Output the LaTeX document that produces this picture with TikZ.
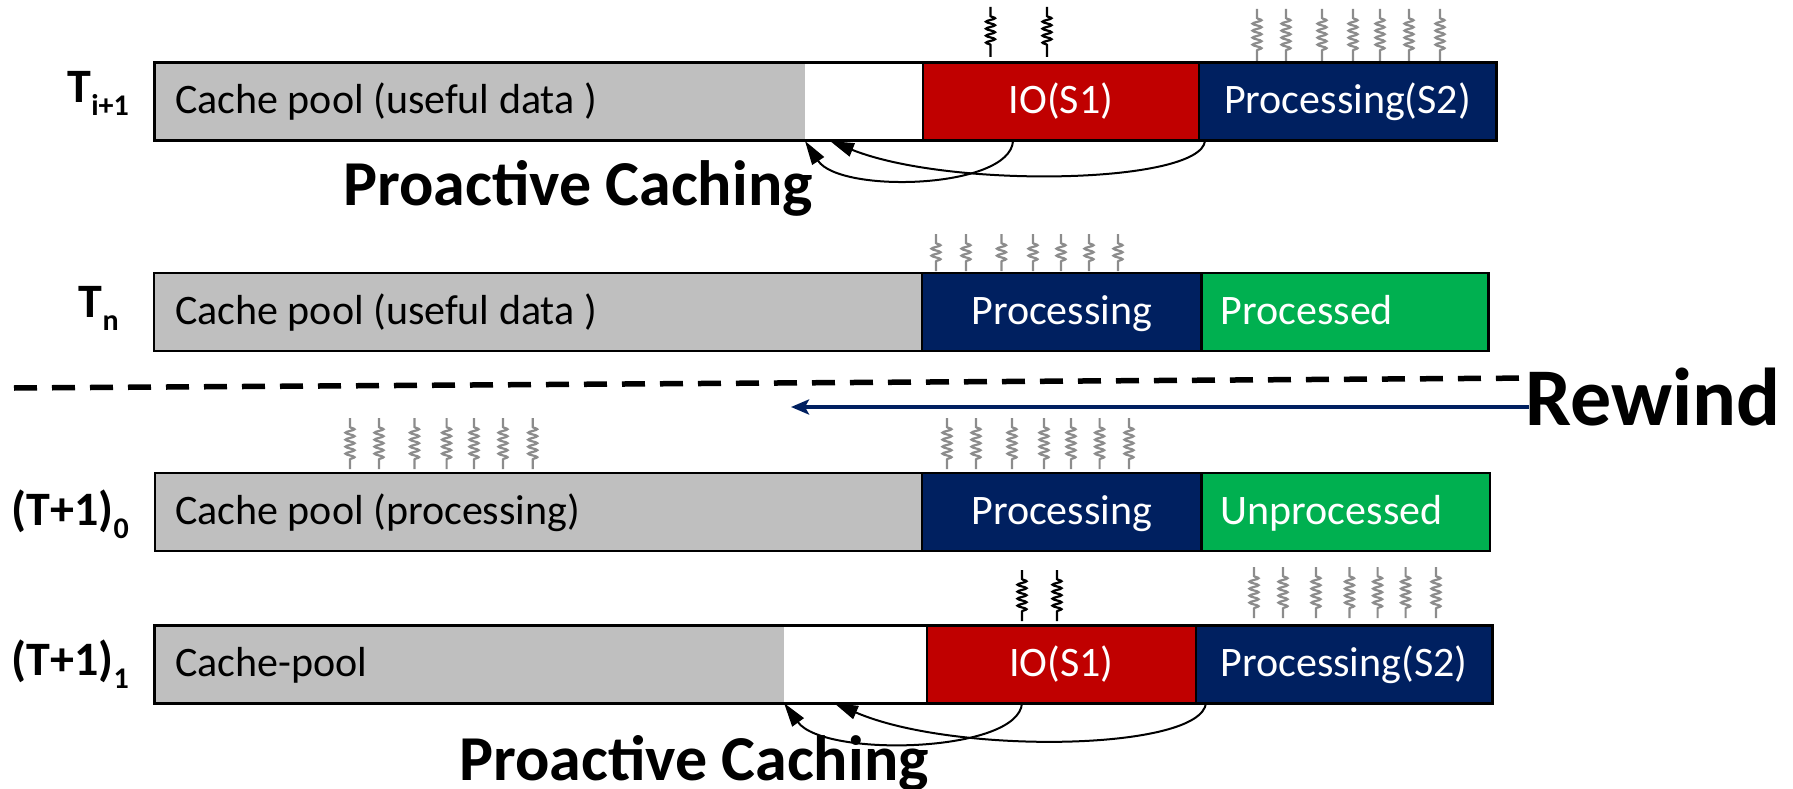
\documentclass[tikz,border=0pt]{standalone}
\usepackage{fontspec}
\setmainfont{Carlito}
\usetikzlibrary{arrows.meta,decorations.pathmorphing,calc}

\definecolor{poolgray}{HTML}{BFBFBF}
\definecolor{iored}{HTML}{C00000}
\definecolor{procnavy}{HTML}{002060}
\definecolor{donegreen}{HTML}{00B050}
\definecolor{springgray}{HTML}{8C8C8C}

% subscript of a row label
\newcommand\rowsub[1]{\raisebox{-13pt}{\fontsize{30}{32}\selectfont #1}}

\begin{document}
\begin{tikzpicture}[x=1pt,y=-1pt,
  cell/.style={rectangle, inner sep=0pt, outer sep=0pt, anchor=west, minimum height=78pt},
  ruled/.style={cell, draw=black, line width=2.5pt},
  frame/.style={draw=black, line width=3pt},
  intext/.style={inner sep=0pt, font=\fontsize{42}{48}\selectfont},
  wtext/.style={intext, text=white},
  rowlabel/.style={inner sep=0pt, anchor=base east, font=\fontsize{48}{52}\selectfont\bfseries},
  caption/.style={inner sep=0pt, anchor=base west, font=\fontsize{64}{70}\selectfont\bfseries},
  spring/.style={line width=2.2pt, decorate,
    decoration={snake, amplitude=4.5pt, segment length=7pt, pre length=9pt, post length=9pt}},
  fetch/.style={line width=2pt, -{Triangle[length=24pt,width=14pt]}},
  rewindarrow/.style={draw=procnavy, line width=4pt, -{Stealth[length=18pt,width=15pt,inset=4pt]}},
]
\useasboundingbox (0,0) rectangle (1793,789);

% ---------- row T_{i+1} ----------
\node[cell, fill=poolgray, minimum width=651pt] (a-pool) at (154,102) {};
\node[cell, fill=white, minimum width=118pt] (a-free) at (805,102) {};
\node[ruled, fill=iored, minimum width=276pt] (a-io) at (923,102) {};
\node[ruled, fill=procnavy, minimum width=297pt] (a-proc) at (1199,102) {};
\draw[frame] (a-pool.north west) rectangle (a-proc.south east);
\node[intext, anchor=base west] (a-pool-t) at ($(a-pool.west)+(21,12)$) {Cache pool (useful data )};
\node[wtext, anchor=base] (a-io-t) at ($(a-io.center)+(0,12)$) {IO(S1)};
\node[wtext, anchor=base] (a-proc-t) at ($(a-proc.center)+(0,12)$) {Processing(S2)};
\node[rowlabel] (a-lab) at (129,103) {T\rowsub{i+1}};

\foreach \x in {990.5,1047} \draw[spring, black] (\x,7) -- (\x,57);
\foreach \x in {1257,1286,1322,1353,1380,1409,1440} \draw[spring, springgray] (\x,9) -- (\x,61);

\draw[fetch] ($(a-io.south west)+(90,0)$) .. controls +(-3,48) and +(35,53) .. (a-free.south west);
\draw[fetch] ($(a-proc.south west)+(6,0)$) .. controls +(-5,43) and +(120,48) .. ($(a-free.south west)+(25,0)$);
\node[caption] (a-cap) at (343,205) {Proactive Caching};

% ---------- row T_n ----------
\node[ruled, fill=poolgray, minimum width=768pt] (b-pool) at (154,312) {};
\node[ruled, fill=procnavy, minimum width=279.5pt] (b-proc) at (922,312) {};
\node[ruled, fill=donegreen, minimum width=287pt] (b-done) at (1201.5,312) {};
\node[intext, anchor=base west] (b-pool-t) at ($(b-pool.west)+(21,12)$) {Cache pool (useful data )};
\node[wtext, anchor=base] (b-proc-t) at ($(b-proc.center)+(0,12)$) {Processing};
\node[wtext, anchor=base west] (b-done-t) at ($(b-done.west)+(19,12)$) {Processed};
\node[rowlabel] (b-lab) at (119,317) {T\rowsub{n}};

\foreach \x in {936,966,1001.5,1033,1061,1089,1118} \draw[spring, springgray] (\x,234) -- (\x,271);

% ---------- rewind marker ----------
\draw[line width=5.5pt, dash pattern=on 23pt off 15pt] (14,388) -- (1540,378);
\coordinate (rw-from) at (1529,407);
\coordinate (rw-to) at (791,407);
\draw[rewindarrow] (rw-from) -- (rw-to);
\node[caption, font=\fontsize{82}{88}\selectfont\bfseries] (rewind) at (1525,425) {Rewind};

% ---------- row (T+1)_0 ----------
\node[ruled, fill=poolgray, minimum width=767pt] (c-pool) at (155,512) {};
\node[ruled, fill=procnavy, minimum width=279.5pt] (c-proc) at (922,512) {};
\node[ruled, fill=donegreen, minimum width=288.5pt] (c-todo) at (1201.5,512) {};
\node[intext, anchor=base west] (c-pool-t) at ($(c-pool.west)+(20,12)$) {Cache pool (processing)};
\node[wtext, anchor=base] (c-proc-t) at ($(c-proc.center)+(0,12)$) {Processing};
\node[wtext, anchor=base west] (c-todo-t) at ($(c-todo.west)+(19,12)$) {Unprocessed};
\node[rowlabel] (c-lab) at (129,525) {(T+1)\rowsub{0}};

\foreach \x in {350,379,414.5,446.6,474,503,532.7} \draw[spring, springgray] (\x,418) -- (\x,469);
\foreach \x in {947,976,1012,1044,1071,1099.6,1129} \draw[spring, springgray] (\x,418) -- (\x,469);

% ---------- row (T+1)_1 ----------
\node[cell, fill=poolgray, minimum width=630pt] (d-pool) at (154,664) {};
\node[cell, fill=white, minimum width=143pt] (d-free) at (784,664) {};
\node[ruled, fill=iored, minimum width=269pt] (d-io) at (927,664) {};
\node[ruled, fill=procnavy, minimum width=296pt] (d-proc) at (1196,664) {};
\draw[frame] (d-pool.north west) rectangle (d-proc.south east);
\node[intext, anchor=base west] (d-pool-t) at ($(d-pool.west)+(21,12)$) {Cache-pool};
\node[wtext, anchor=base] (d-io-t) at ($(d-io.center)+(0,12)$) {IO(S1)};
\node[wtext, anchor=base] (d-proc-t) at ($(d-proc.center)+(0,12)$) {Processing(S2)};
\node[rowlabel] (d-lab) at (129,675) {(T+1)\rowsub{1}};

\foreach \x in {1022,1057} \draw[spring, black] (\x,570) -- (\x,621);
\foreach \x in {1254,1283,1316,1349.5,1377.6,1405.6,1436} \draw[spring, springgray] (\x,567) -- (\x,618);

\draw[fetch] ($(d-io.south west)+(95,0)$) .. controls +(-3,50) and +(40,55) .. (d-free.south west);
\draw[fetch] ($(d-proc.south west)+(10,0)$) .. controls +(-5,48) and +(120,52) .. ($(d-free.south west)+(50,0)$);
\node[caption] (d-cap) at (459,780) {Proactive Caching};
\end{tikzpicture}
\end{document}
